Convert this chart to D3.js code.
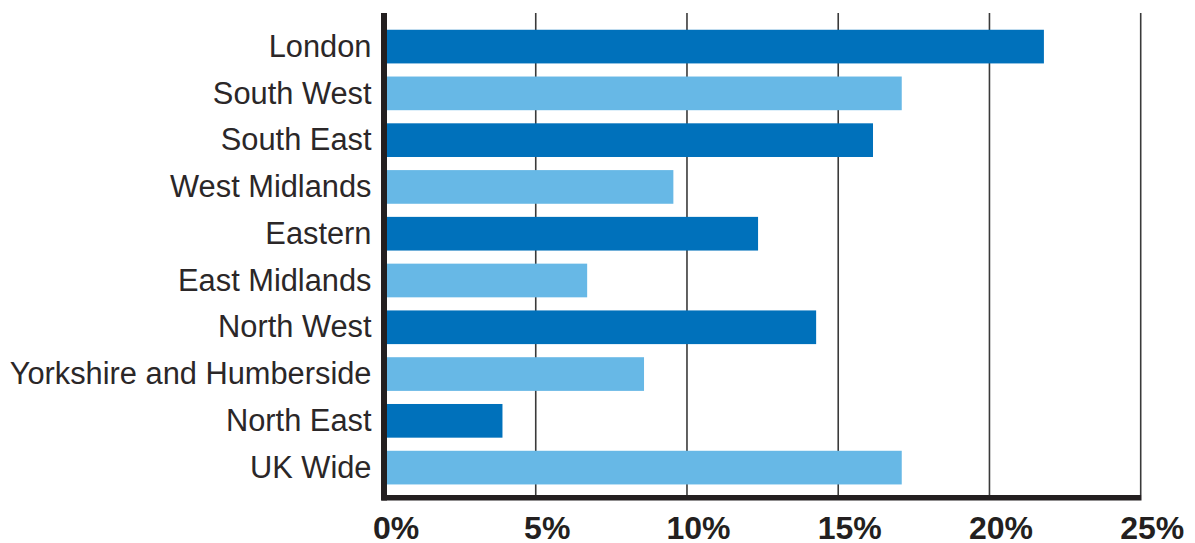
<!DOCTYPE html>
<html>
<head>
<meta charset="utf-8">
<script src="https://cdn.jsdelivr.net/npm/d3@7"></script>
<style>
  body { margin: 0; background: #fff; }
  text { font-family: "Liberation Sans", Arial, Helvetica, sans-serif; fill: #231f20; }
</style>
</head>
<body>
<script>
//////////////// Data ////////////////////
var regions = ["London", "South West", "South East", "West Midlands", "Eastern",
  "East Midlands", "North West", "Yorkshire and Humberside", "North East", "UK Wide"];
var shares = [21.8, 17.1, 16.15, 9.55, 12.35, 6.7, 14.27, 8.58, 3.9, 17.1];
var tickValues = [0, 5, 10, 15, 20, 25];
var barColors = ["#0071bb", "#67b8e6"];

//////////////// Layout ////////////////////
var width = 1195, height = 543;

var svg = d3.select("body").append("svg")
  .attr("width", width)
  .attr("height", height);

var x = d3.scaleLinear().domain([0, 25]).range([384.5, 1140.7]);
var y = d3.scaleBand().domain(regions).range([23.2, 491]).paddingInner(0.28).paddingOuter(0.14);

var plotTop = 13, plotBottom = 495;

// gridlines
svg.append("g").selectAll("line.grid")
  .data(tickValues.slice(1))
  .enter().append("line")
  .attr("class", "grid")
  .attr("x1", function(d){ return x(d); })
  .attr("x2", function(d){ return x(d); })
  .attr("y1", plotTop)
  .attr("y2", plotBottom)
  .attr("stroke", "#3a3a3a")
  .attr("stroke-width", 1.6);

// bars
svg.append("g").selectAll("rect")
  .data(regions)
  .enter().append("rect")
  .attr("x", x(0))
  .attr("y", function(d){ return y(d); })
  .attr("width", function(d, i){ return x(shares[i]) - x(0); })
  .attr("height", y.bandwidth())
  .attr("fill", function(d, i){ return barColors[i % 2]; });

// bottom axis
var xAxis = d3.axisBottom(x).tickValues(tickValues).tickSize(0)
  .tickFormat(function(d){ return d + "%"; });
var gx = svg.append("g")
  .attr("transform", "translate(0," + plotBottom + ")")
  .call(xAxis);
gx.select(".domain").remove();
gx.selectAll("text")
  .attr("dx", 11)
  .attr("y", 43.5)
  .attr("dy", 0)
  .style("font-size", "32px")
  .style("font-weight", "bold")
  .style("font-family", "'Liberation Sans', Arial, sans-serif")
  .style("fill", "#231f20");
svg.append("line")
  .attr("x1", 381.5).attr("x2", 1141.5)
  .attr("y1", 497.8).attr("y2", 497.8)
  .attr("stroke", "#231f20").attr("stroke-width", 5.5);

// left axis
var yAxis = d3.axisLeft(y).tickSize(0).tickPadding(13);
var gy = svg.append("g")
  .attr("transform", "translate(384.5,0)")
  .call(yAxis);
gy.select(".domain").remove();
gy.selectAll("text")
  .attr("dy", "0.33em")
  .style("font-size", "30.8px")
  .style("font-family", "'Liberation Sans', Arial, sans-serif")
  .style("fill", "#2b2728");
svg.append("line")
  .attr("x1", 384).attr("x2", 384)
  .attr("y1", plotTop).attr("y2", 500.5)
  .attr("stroke", "#231f20").attr("stroke-width", 6);
</script>
</body>
</html>
